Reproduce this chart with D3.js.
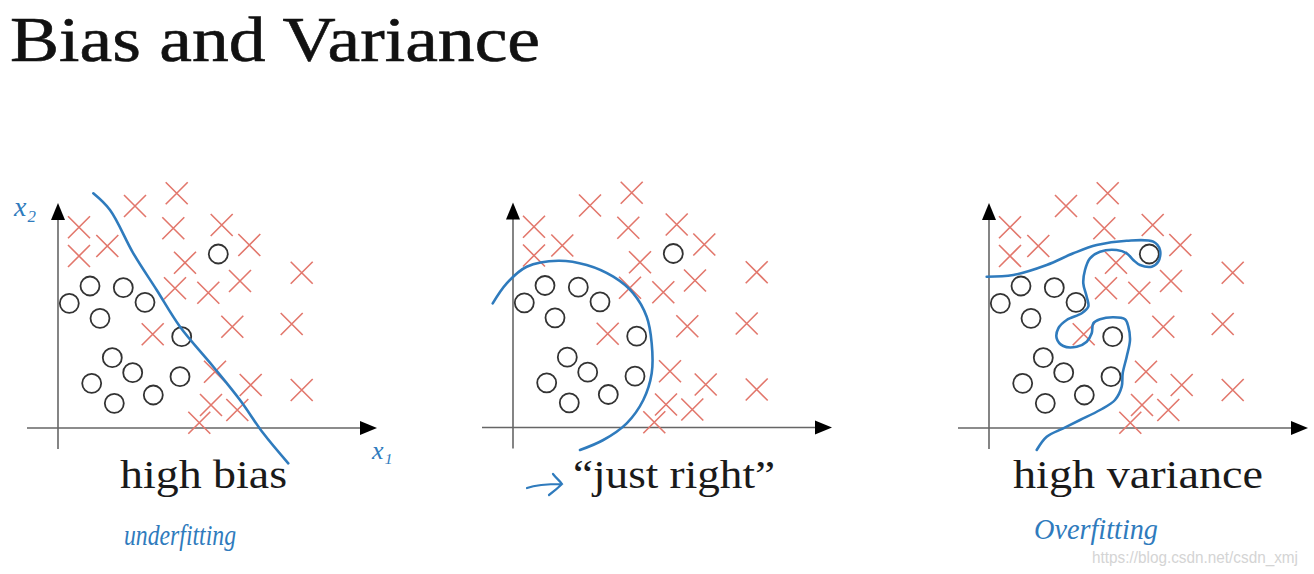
<!DOCTYPE html>
<html>
<head>
<meta charset="utf-8">
<script src="https://cdn.jsdelivr.net/npm/d3@7"></script>
<style>
  body { margin: 0; background: #fff; }
  svg { display: block; }
</style>
</head>
<body>
<div id="chart"></div>
<script>
// positive class (x) and negative class (o), in feature units (x1, x2)
const crossPoints = [
  [118.7, 234.7], [77, 222], [21, 200.7], [115.3, 199.7], [163.7, 203],
  [49.3, 182], [21, 172], [191.3, 183], [127, 165.3], [243.7, 155.3],
  [182, 147], [117, 139.7], [150.3, 135.3], [174.3, 101.3], [233.7, 104],
  [94.7, 93.7], [157, 56.3], [192.7, 43], [243.7, 38], [153, 23],
  [179.3, 18], [141.3, 5.3]
];
const circlePoints = [
  [160.3, 174], [32, 142], [65.3, 140.3], [11.3, 124.7], [87, 125.7],
  [42, 109.7], [123.7, 91.3], [54.3, 70.3], [74.7, 55.3], [122, 51.3],
  [33.7, 44.7], [95.3, 33], [56.3, 24.7]
];

// decision boundaries
const boundaryBias = [
  [35.3, 234.7], [52, 218], [75.3, 174.7], [98.7, 138], [122, 101.3],
  [155.3, 61.3], [182, 28], [205.3, -5.3], [230.3, -35.3]
];
const boundaryRight = [
  [-20.3, 124.2], [-6.3, 144.2], [13.7, 160.8], [45.3, 166.8], [73.7, 162.5],
  [100.3, 150.8], [120.3, 134.2], [133.7, 110.8], [138.7, 84.2], [138.7, 54.2],
  [130.3, 27.5], [113.7, 4.2], [90.3, -12.5], [67, -22.5]
];
const boundaryVariance = [
  [-2.3, 151.3], [24.3, 153], [57.7, 163], [84.3, 174.7], [107.7, 183],
  [137.7, 187.3], [164.3, 186.3], [171, 178], [169.3, 166.3], [162.7, 161.3],
  [151, 163], [144.3, 168], [137.7, 174.7], [127.7, 178], [111, 176.3],
  [101, 169.7], [96, 158], [94.3, 144.7], [97.7, 131.3], [99.3, 121.3],
  [92.7, 114.7], [77.7, 108], [69.3, 99.7], [67.7, 89.7], [74.3, 82],
  [87.7, 81.3], [97.7, 86.3], [102.7, 94.7], [104.3, 104.7], [111, 108.7],
  [124.3, 110.7], [136, 108.7], [139.3, 101.3], [141, 88], [137.7, 71.3],
  [133.7, 54.7], [132.7, 41.3], [126, 28], [111, 18], [91, 8],
  [74.3, -0.3], [57.7, -8.7], [47.7, -22]
];

const panelLabels = ['high bias', '\u201cjust right\u201d', 'high variance'];
const noteLabels = ['underfitting', '', 'Overfitting'];

const width = 1314;
const height = 574;

const panels = [
  { ox: 58, oy: 428, label: panelLabels[0], note: noteLabels[0], curve: boundaryBias,
    labelX: 120, labelW: 167, noteX: 124, noteW: 112, noteY: 545 },
  { ox: 513, oy: 427.5, label: panelLabels[1], note: noteLabels[1], curve: boundaryRight,
    labelX: 573, labelW: 202 },
  { ox: 989, oy: 428, label: panelLabels[2], note: noteLabels[2], curve: boundaryVariance,
    labelX: 1013, labelW: 250, noteX: 1034, noteW: 124, noteY: 539 }
];

const blue = '#2f7bbd';
const red = '#e2776c';
const serif = '"Liberation Serif", "DejaVu Serif", serif';

const svg = d3.select('#chart')
  .append('svg')
  .attr('width', width)
  .attr('height', height);

svg.append('text')
  .attr('x', 10)
  .attr('y', 61)
  .attr('font-family', serif)
  .attr('font-size', 64)
  .attr('textLength', 530)
  .attr('lengthAdjust', 'spacingAndGlyphs')
  .attr('fill', '#111')
  .attr('stroke', '#111')
  .attr('stroke-width', 0.6)
  .text('Bias and Variance');

panels.forEach((p, i) => {
  const x = d3.scaleLinear().domain([0, 300]).range([p.ox, p.ox + 300]);
  const y = d3.scaleLinear().domain([0, 225]).range([p.oy, p.oy - 225]);
  const g = svg.append('g');

  // axes
  g.append('line')
    .attr('x1', x(-31)).attr('x2', x(305))
    .attr('y1', y(0)).attr('y2', y(0))
    .attr('stroke', '#666').attr('stroke-width', 1.6);
  g.append('line')
    .attr('x1', x(0)).attr('x2', x(0))
    .attr('y1', y(-21)).attr('y2', y(212))
    .attr('stroke', '#666').attr('stroke-width', 1.6);
  g.append('path')
    .attr('d', `M${x(319)},${y(0)} L${x(302)},${y(0) - 7} L${x(302)},${y(0) + 7} Z`)
    .attr('fill', '#000');
  g.append('path')
    .attr('d', `M${x(0)},${y(225)} L${x(0) - 7},${y(208)} L${x(0) + 7},${y(208)} Z`)
    .attr('fill', '#000');

  // crosses
  const s = 11;
  g.append('g')
    .selectAll('path')
    .data(crossPoints)
    .join('path')
    .attr('d', d => {
      const cx = x(d[0]), cy = y(d[1]);
      return `M${cx - s},${cy - s}L${cx + s},${cy + s}M${cx - s},${cy + s}L${cx + s},${cy - s}`;
    })
    .attr('stroke', red)
    .attr('stroke-width', 1.6)
    .attr('fill', 'none');

  // circles
  g.append('g')
    .selectAll('circle')
    .data(circlePoints)
    .join('circle')
    .attr('cx', d => x(d[0]))
    .attr('cy', d => y(d[1]))
    .attr('r', 9.5)
    .attr('fill', 'none')
    .attr('stroke', '#333')
    .attr('stroke-width', 1.8);

  // boundary
  const line = d3.line()
    .x(d => x(d[0]))
    .y(d => y(d[1]))
    .curve(d3.curveCatmullRom.alpha(0.5));
  g.append('path')
    .attr('d', line(p.curve))
    .attr('fill', 'none')
    .attr('stroke', blue)
    .attr('stroke-width', 2.6)
    .attr('stroke-linecap', 'round')
    .attr('stroke-linejoin', 'round');

  // label under panel
  g.append('text')
    .attr('x', p.labelX)
    .attr('y', 488)
    .attr('font-family', serif)
    .attr('font-size', 40)
    .attr('textLength', p.labelW)
    .attr('lengthAdjust', 'spacingAndGlyphs')
    .attr('fill', '#1a1a1a')
    .text(p.label);

  if (p.note) {
    g.append('text')
      .attr('x', p.noteX)
      .attr('y', p.noteY)
      .attr('font-family', serif)
      .attr('font-style', 'italic')
      .attr('font-size', 30)
      .attr('textLength', p.noteW)
      .attr('lengthAdjust', 'spacingAndGlyphs')
      .attr('fill', blue)
      .text(p.note);
  }
});

// axis names on the first panel
svg.append('text')
  .attr('x', 14).attr('y', 216)
  .attr('font-family', serif).attr('font-style', 'italic')
  .attr('font-size', 28).attr('fill', blue)
  .text('x\u2082');
svg.append('text')
  .attr('x', 372).attr('y', 459)
  .attr('font-family', serif).attr('font-style', 'italic')
  .attr('font-size', 26).attr('fill', blue)
  .text('x\u2081');

// hand-drawn arrow pointing at "just right"
svg.append('path')
  .attr('d', 'M527,488 C538,484 550,484 562,484 M553,474 C556,478 560,481 562,484 C558,488 553,492 549,495')
  .attr('fill', 'none')
  .attr('stroke', blue)
  .attr('stroke-width', 2.2)
  .attr('stroke-linecap', 'round');

// watermark
svg.append('text')
  .attr('x', 1092).attr('y', 563)
  .attr('font-family', '"Liberation Sans", Arial, sans-serif')
  .attr('font-size', 16)
  .attr('textLength', 206)
  .attr('lengthAdjust', 'spacingAndGlyphs')
  .attr('fill', '#d4d4d4')
  .text('https://blog.csdn.net/csdn_xmj');
</script>
</body>
</html>
